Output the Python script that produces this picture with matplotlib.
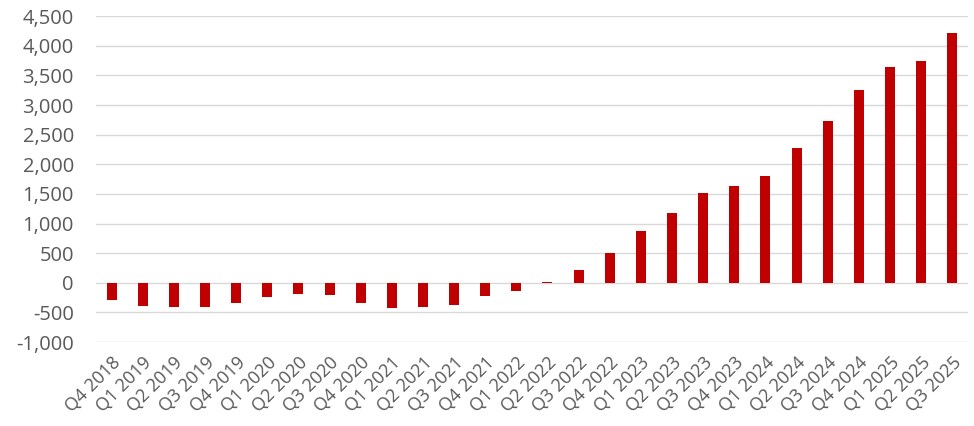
import matplotlib
matplotlib.use("Agg")
import matplotlib.pyplot as plt
from matplotlib.ticker import FuncFormatter

# quarters and values
quarters = ["Q4 2018", "Q1 2019", "Q2 2019", "Q3 2019", "Q4 2019",
            "Q1 2020", "Q2 2020", "Q3 2020", "Q4 2020",
            "Q1 2021", "Q2 2021", "Q3 2021", "Q4 2021",
            "Q1 2022", "Q2 2022", "Q3 2022", "Q4 2022",
            "Q1 2023", "Q2 2023", "Q3 2023", "Q4 2023",
            "Q1 2024", "Q2 2024", "Q3 2024", "Q4 2024",
            "Q1 2025", "Q2 2025", "Q3 2025"]
values = [-292, -393, -415, -405, -348,
          -241, -196, -207, -337,
          -432, -405, -371, -230,
          -135, 15, 210, 496,
          877, 1171, 1508, 1626,
          1805, 2272, 2728, 3246,
          3644, 3751, 4224]

yticks = list(range(-1000, 4501, 500))

plt.rcParams['font.family'] = ['Open Sans', 'DejaVu Sans']

fig = plt.figure(figsize=(9.74, 4.26), dpi=100)
ax = fig.add_axes([0.0986, 0.197, 0.895, 0.765])

x = list(range(len(quarters)))
ax.bar(x, values, width=0.32, color='#C00000', zorder=3)

ax.set_xlim(-0.5, len(quarters) - 0.5)
ax.set_ylim(-1000, 4500)
ax.set_yticks(yticks)
ax.yaxis.set_major_formatter(FuncFormatter(lambda v, p: f"{int(v):,}"))
ax.grid(axis='y', color='#D9D9D9', linewidth=1, zorder=0)

ax.set_xticks(x)
ax.set_xticklabels(quarters, rotation=45, ha='right', rotation_mode='anchor')

ax.tick_params(axis='y', length=0, labelsize=14.5, labelcolor='#595959', pad=16)
ax.tick_params(axis='x', length=0, labelsize=13, labelcolor='#595959', pad=8)

for s in ax.spines.values():
    s.set_visible(False)

fig.savefig("out.png", dpi=100)
